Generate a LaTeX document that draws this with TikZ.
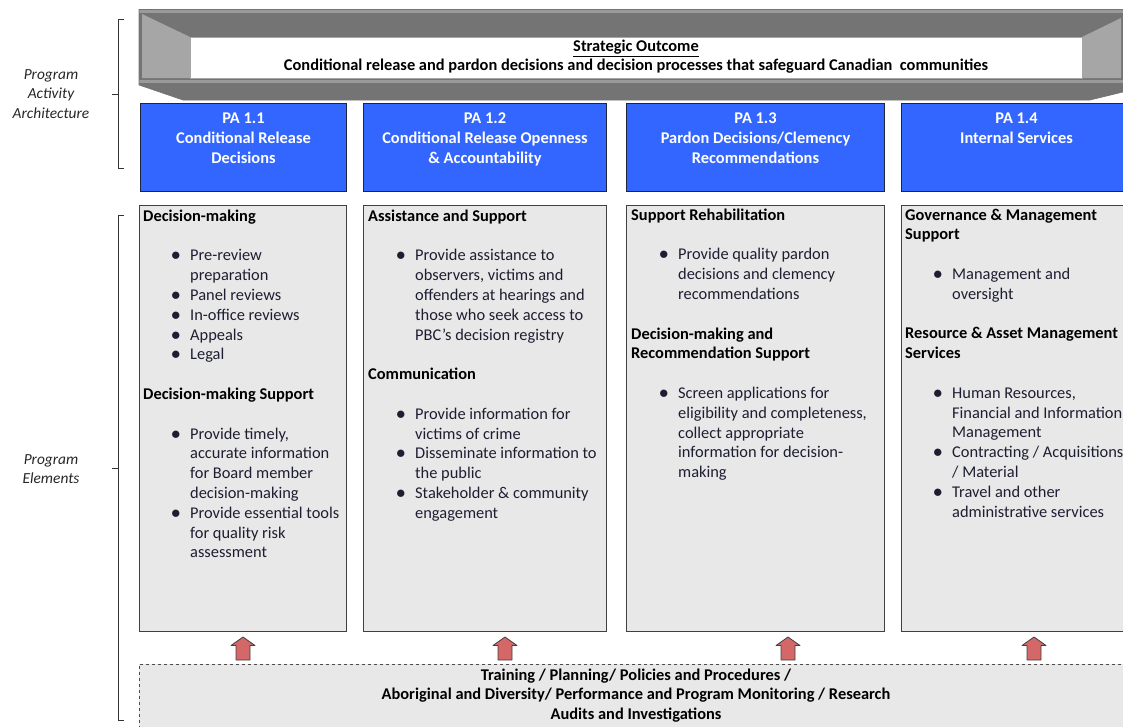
\documentclass[tikz,border=0pt]{standalone}
\usepackage{fontspec}
\setmainfont{Carlito}
\usetikzlibrary{calc}

\definecolor{pablue}{HTML}{3366FF}
\definecolor{paborder}{HTML}{1E2540}
\definecolor{boxgrey}{HTML}{E8E8E8}
\definecolor{boxline}{HTML}{404040}
\definecolor{banddark}{HTML}{747474}
\definecolor{bandlight}{HTML}{A6A6A6}
\definecolor{bandhi}{HTML}{9A9A9A}
\definecolor{bodytext}{HTML}{1E1E32}
\definecolor{arrowred}{HTML}{D46868}

% list helpers for the element boxes
\newcommand\hd[1]{\textcolor{black}{\textbf{#1}}}
\newcommand\bu[1]{\hspace*{28pt}\makebox[19pt][l]{\scalebox{1.1}{$\bullet$}}#1}
\newcommand\cn[1]{\hspace*{47pt}#1}
\newcommand\blank{\mbox{}}

\begin{document}
\begin{tikzpicture}[x=1pt,y=-1pt,
  pabox/.style={draw=paborder,line width=1pt,fill=pablue,anchor=north west,minimum height=88,inner sep=0},
  patext/.style={anchor=north,align=center,inner sep=0,text=white,font=\fontsize{16.4}{19.8}\selectfont\bfseries},
  elembox/.style={draw=boxline,line width=1pt,fill=boxgrey,anchor=north west,minimum height=426,inner sep=0},
  elemtext/.style={anchor=north west,align=left,inner sep=0,text=bodytext,font=\fontsize{16.4}{19.8}\selectfont},
  sidelabel/.style={anchor=north,align=center,inner sep=0,text=black!85,font=\fontsize{15.4}{19.6}\selectfont\itshape},
  bracket/.style={draw=black!80,line width=0.9pt},
  uparrow/.style={draw=black!75,line width=0.8pt,fill=arrowred,line join=round},
]
\useasboundingbox (0,0) rectangle (1123,726);

% ---- strategic outcome banner (bevelled frame)
\fill[banddark] (139,9) -- (1123,9) -- (1123,92) -- (1090,100) -- (183,100) -- (139,85) -- cycle;
\fill[bandhi] (139,9) rectangle (1123,13);
\fill[bandlight] (142,14) -- (190,37) -- (190,78) -- (142,78) -- cycle;
\fill[bandlight] (1082,37) -- (1121,18) -- (1121,78) -- (1082,78) -- cycle;
\fill[bandhi] (139,80) rectangle (1123,83);
\draw[black!55,line width=0.6pt] (139,9) -- (1123,9);
\draw[black!55,line width=0.6pt] (139,9) -- (139,85) -- (183,100) -- (1090,100) -- (1123,92);
\fill[white] (190,37) rectangle (1082,78);
\draw[black!35,line width=0.5pt] (190,37) rectangle (1082,78);
\node[anchor=north,align=center,inner sep=0,font=\fontsize{16.4}{19}\selectfont\bfseries] (so) at (636,40)
  {\underline{Strategic Outcome}\\Conditional release and pardon decisions and decision processes that safeguard Canadian\ \ communities};

% ---- left side labels and brackets
\node[sidelabel] (paa) at (51,69) {Program\\Activity\\Architecture};
\draw[bracket] (124,19) -| (118,168) -- (124,168);
\draw[bracket] (118,94) -- (112,94);
\node[sidelabel] (pel) at (51,454) {Program\\Elements};
\draw[bracket] (124,215) -| (118,720) -- (124,720);
\draw[bracket] (118,468) -- (112,468);

% ---- program activities
\node[pabox,minimum width=206] (pa1) at (140,103) {};
\node[pabox,minimum width=243] (pa2) at (363,103) {};
\node[pabox,minimum width=258] (pa3) at (626,103) {};
\node[pabox,minimum width=230] (pa4) at (901,103) {};
\node[patext] (pa1t) at ($(pa1.north)+(0,10)$) {PA 1.1\\Conditional Release\\Decisions};
\node[patext] (pa2t) at ($(pa2.north)+(0,10)$) {PA 1.2\\Conditional Release Openness\\\& Accountability};
\node[patext] (pa3t) at ($(pa3.north)+(0,10)$) {PA 1.3\\Pardon Decisions/Clemency\\Recommendations};
\node[patext] (pa4t) at ($(pa4.north)+(0,10)$) {PA 1.4\\Internal Services};

% ---- program elements
\node[elembox,minimum width=207] (e1) at (139,205) {};
\node[elembox,minimum width=243] (e2) at (363,205) {};
\node[elembox,minimum width=258] (e3) at (626,205) {};
\node[elembox,minimum width=230] (e4) at (901,205) {};

\node[elemtext] (e1t) at (143,209.5) {%
\hd{Decision-making}\\
\blank\\
\bu{Pre-review}\\
\cn{preparation}\\
\bu{Panel reviews}\\
\bu{In-office reviews}\\
\bu{Appeals}\\
\bu{Legal}\\
\blank\\
\hd{Decision-making Support}\\
\blank\\
\bu{Provide timely,}\\
\cn{accurate information}\\
\cn{for Board member}\\
\cn{decision-making}\\
\bu{Provide essential tools}\\
\cn{for quality risk}\\
\cn{assessment}};

\node[elemtext] (e2t) at (368,209.5) {%
\hd{Assistance and Support}\\
\blank\\
\bu{Provide assistance to}\\
\cn{observers, victims and}\\
\cn{offenders at hearings and}\\
\cn{those who seek access to}\\
\cn{PBC’s decision registry}\\
\blank\\
\hd{Communication}\\
\blank\\
\bu{Provide information for}\\
\cn{victims of crime}\\
\bu{Disseminate information to}\\
\cn{the public}\\
\bu{Stakeholder \& community}\\
\cn{engagement}};

\node[elemtext] (e3t) at (631,208.5) {%
\hd{Support Rehabilitation}\\
\blank\\
\bu{Provide quality pardon}\\
\cn{decisions and clemency}\\
\cn{recommendations}\\
\blank\\
\hd{Decision-making and}\\
\hd{Recommendation Support}\\
\blank\\
\bu{Screen applications for}\\
\cn{eligibility and completeness,}\\
\cn{collect appropriate}\\
\cn{information for decision-}\\
\cn{making}};

\node[elemtext] (e4t) at (905,208.5) {%
\hd{Governance \& Management}\\
\hd{Support}\\
\blank\\
\bu{Management and}\\
\cn{oversight}\\
\blank\\
\hd{Resource \& Asset Management}\\
\hd{Services}\\
\blank\\
\bu{Human Resources,}\\
\cn{Financial and Information}\\
\cn{Management}\\
\bu{Contracting / Acquisitions}\\
\cn{/ Material}\\
\bu{Travel and other}\\
\cn{administrative services}};

% ---- shared support functions
\node[draw=black!70,dashed,line width=0.8pt,fill=boxgrey,anchor=north west,minimum width=994,minimum height=80,inner sep=0] (base) at (139,664) {};
\node[anchor=north,align=center,inner sep=0,font=\fontsize{16.4}{19.6}\selectfont\bfseries] (baset) at (636,668.5)
  {Training / Planning/ Policies and Procedures /\\Aboriginal and Diversity/ Performance and Program Monitoring / Research\\Audits and Investigations};

% ---- upward block arrows
\foreach \x in {243,505,788,1034}
  \draw[uparrow] (\x,637) -- (\x+12,645.5) -- (\x+7,645.5) -- (\x+7,660) -- (\x-7,660) -- (\x-7,645.5) -- (\x-12,645.5) -- cycle;

\end{tikzpicture}
\end{document}
